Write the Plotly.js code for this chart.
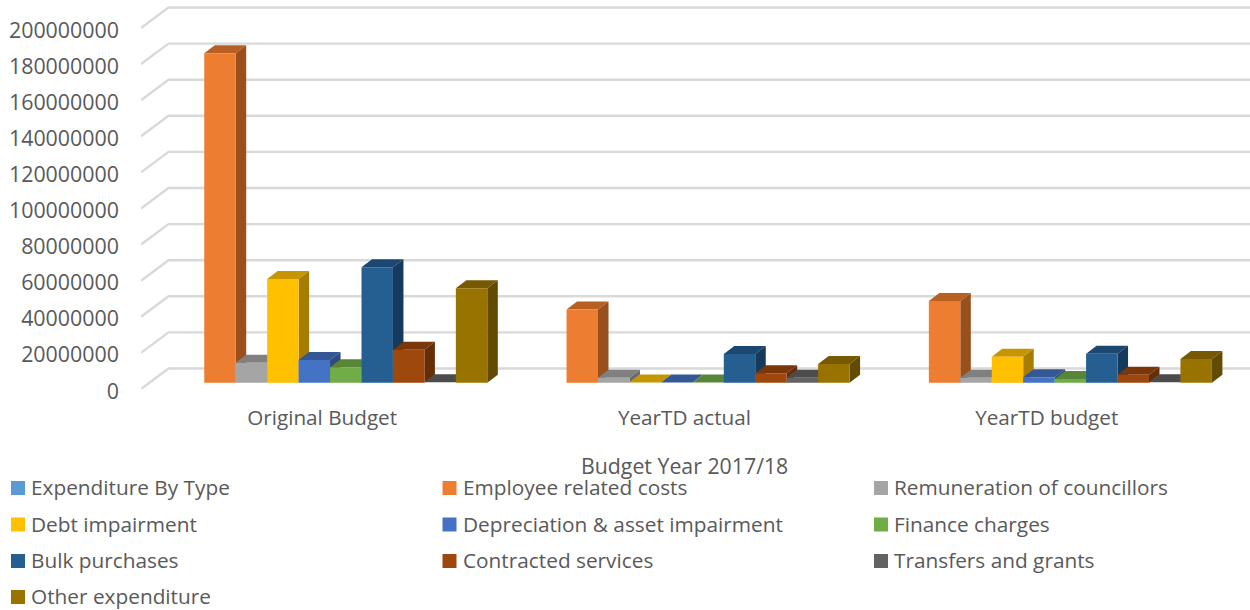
<!DOCTYPE html>
<html>
<head>
<meta charset="utf-8">
<script src="https://cdn.plot.ly/plotly-3.0.1.min.js"></script>
<style>html,body{margin:0;padding:0;background:#fff;overflow:hidden}</style>
</head>
<body>
<div id="chart" style="width:1250px;height:610px"></div>
<script>
// Expenditure by type, in rand, for each budget column
const categories = ["Original Budget", "YearTD actual", "YearTD budget"];
const expenditureByType = [null, null, null];
const employeeCosts = [182500000, 40600000, 45300000];
const councillors = [11100000, 2800000, 2800000];
const debtImpairment = [57500000, 100000, 14400000];
const depreciation = [12600000, 100000, 3000000];
const financeCharges = [8500000, 100000, 2000000];
const bulkPurchases = [63900000, 15900000, 16000000];
const contractedServices = [18300000, 5200000, 4400000];
const transfersGrants = [200000, 2800000, 200000];
const otherExpenditure = [52300000, 10300000, 13100000];
const yTicks = [0, 20000000, 40000000, 60000000, 80000000, 100000000, 120000000, 140000000, 160000000, 180000000, 200000000];

const seriesList = [
  {name: "Expenditure By Type", values: expenditureByType, front: "#5B9BD5", top: "#4A7FAE", side: "#3A6488"},
  {name: "Employee related costs", values: employeeCosts, front: "#ED7D31", top: "#B85F22", side: "#9A501C"},
  {name: "Remuneration of councillors", values: councillors, front: "#A5A5A5", top: "#808080", side: "#6C6C6C"},
  {name: "Debt impairment", values: debtImpairment, front: "#FFC000", top: "#C69500", side: "#A67D00"},
  {name: "Depreciation & asset impairment", values: depreciation, front: "#4472C4", top: "#345796", side: "#2C4A80"},
  {name: "Finance charges", values: financeCharges, front: "#70AD47", top: "#578636", side: "#49712D"},
  {name: "Bulk purchases", values: bulkPurchases, front: "#255E91", top: "#1C4770", side: "#163A5C"},
  {name: "Contracted services", values: contractedServices, front: "#9E480E", top: "#7A370A", side: "#662E08"},
  {name: "Transfers and grants", values: transfersGrants, front: "#636363", top: "#4C4C4C", side: "#404040"},
  {name: "Other expenditure", values: otherExpenditure, front: "#997300", top: "#765900", side: "#624A00"}
];

// Plot frame in page pixels and the oblique projection of the 3-D box
const plotLeft = 141, plotWidth = 1109, plotBottom = 389;
const pxPerCategory = 362.3, pxPerValue = 361 / 200000000;
const dxCat = px => px / pxPerCategory;
const dyVal = px => px / pxPerValue;
const xMin = -0.5, xMax = xMin + plotWidth / pxPerCategory;
const yMax = plotBottom / pxPerValue;

const wallDx = dxCat(27.5), wallDy = dyVal(20.5);   // front plane to back wall
const barDx = dxCat(10.5), barDy = dyVal(8);        // depth of one bar
const rowDx = dxCat(7.9), rowDy = dyVal(6.3);       // front plane to bar row
const slot = dxCat(31.45);
const groupStart = -5 * slot + rowDx;

const traces = [];

// Back wall gridlines and the receding lines on the side wall
const gx = [], gy = [];
yTicks.forEach(v => {
  gx.push(xMin, xMin + wallDx, xMax, null);
  gy.push(v, v + wallDy, v + wallDy, null);
});
traces.push({type: "scatter", mode: "lines", x: gx, y: gy, hoverinfo: "skip", showlegend: false,
  line: {color: "#D9D9D9", width: 2.4}});

// Each bar is painted as top, side and front faces, series by series from left to right
seriesList.forEach((s, si) => {
  const top = {x: [], y: []}, side = {x: [], y: []}, front = {x: [], y: []};
  s.values.forEach((v, ci) => {
    if (v === null) return;
    const x0 = ci + groupStart + si * slot, x1 = x0 + slot;
    const y0 = rowDy, y1 = rowDy + v;
    top.x.push(x0, x1, x1 + barDx, x0 + barDx, x0, null);
    top.y.push(y1, y1, y1 + barDy, y1 + barDy, y1, null);
    side.x.push(x1, x1 + barDx, x1 + barDx, x1, x1, null);
    side.y.push(y0, y0 + barDy, y1 + barDy, y1, y0, null);
    front.x.push(x0, x1, x1, x0, x0, null);
    front.y.push(y0, y0, y1, y1, y0, null);
  });
  [[top, s.top], [side, s.side], [front, s.front]].forEach(([f, c]) => {
    traces.push({type: "scatter", mode: "lines", fill: "toself", x: f.x, y: f.y, name: s.name,
      fillcolor: c, line: {width: 0, color: c}, hoverinfo: "name", showlegend: false});
  });
});

// Three-column key under the plot, plus the category axis caption that sits just above it
const pageX = px => (px - plotLeft) / plotWidth;
const pageY = py => (plotBottom - py) / plotBottom;
const keyCols = [11, 442.5, 874], keyRows = [488, 524.5, 561, 597];
const shapes = [], annotations = [];
seriesList.forEach((s, i) => {
  const cx = keyCols[i % 3], cy = keyRows[Math.floor(i / 3)];
  shapes.push({type: "rect", xref: "paper", yref: "paper", line: {width: 0}, fillcolor: s.front,
    x0: pageX(cx), x1: pageX(cx + 14), y0: pageY(cy + 7), y1: pageY(cy - 7)});
  annotations.push({xref: "paper", yref: "paper", x: pageX(cx + 18), y: pageY(cy - 1), text: s.name,
    showarrow: false, xanchor: "left", yanchor: "middle", font: {size: 20.8, color: "#595959"}});
});
annotations.push({xref: "x", yref: "paper", x: 1, y: pageY(465), text: "Budget Year 2017/18",
  showarrow: false, xanchor: "center", yanchor: "middle", font: {size: 21.3, color: "#595959"}});

const layout = {
  width: 1250, height: 610,
  margin: {l: plotLeft, r: 0, t: 0, b: 610 - plotBottom},
  paper_bgcolor: "#fff", plot_bgcolor: "#fff",
  font: {family: '"Open Sans", sans-serif', size: 20, color: "#595959"},
  showlegend: false,
  shapes, annotations,
  xaxis: {
    range: [xMin, xMax], tickmode: "array", tickvals: [0, 1, 2], ticktext: categories,
    showgrid: false, zeroline: false, showline: false, ticks: "", ticklabelstandoff: 14,
    tickfont: {size: 20.7, color: "#595959"}
  },
  yaxis: {
    range: [0, yMax], tickmode: "array", tickvals: yTicks, tickformat: "d",
    showgrid: false, zeroline: false, showline: false, ticks: "", ticklabelstandoff: 21,
    ticklabelshift: 2,
    tickfont: {size: 21.4, color: "#595959"}
  }
};
Plotly.newPlot("chart", traces, layout, {displayModeBar: false});
</script>
</body>
</html>
